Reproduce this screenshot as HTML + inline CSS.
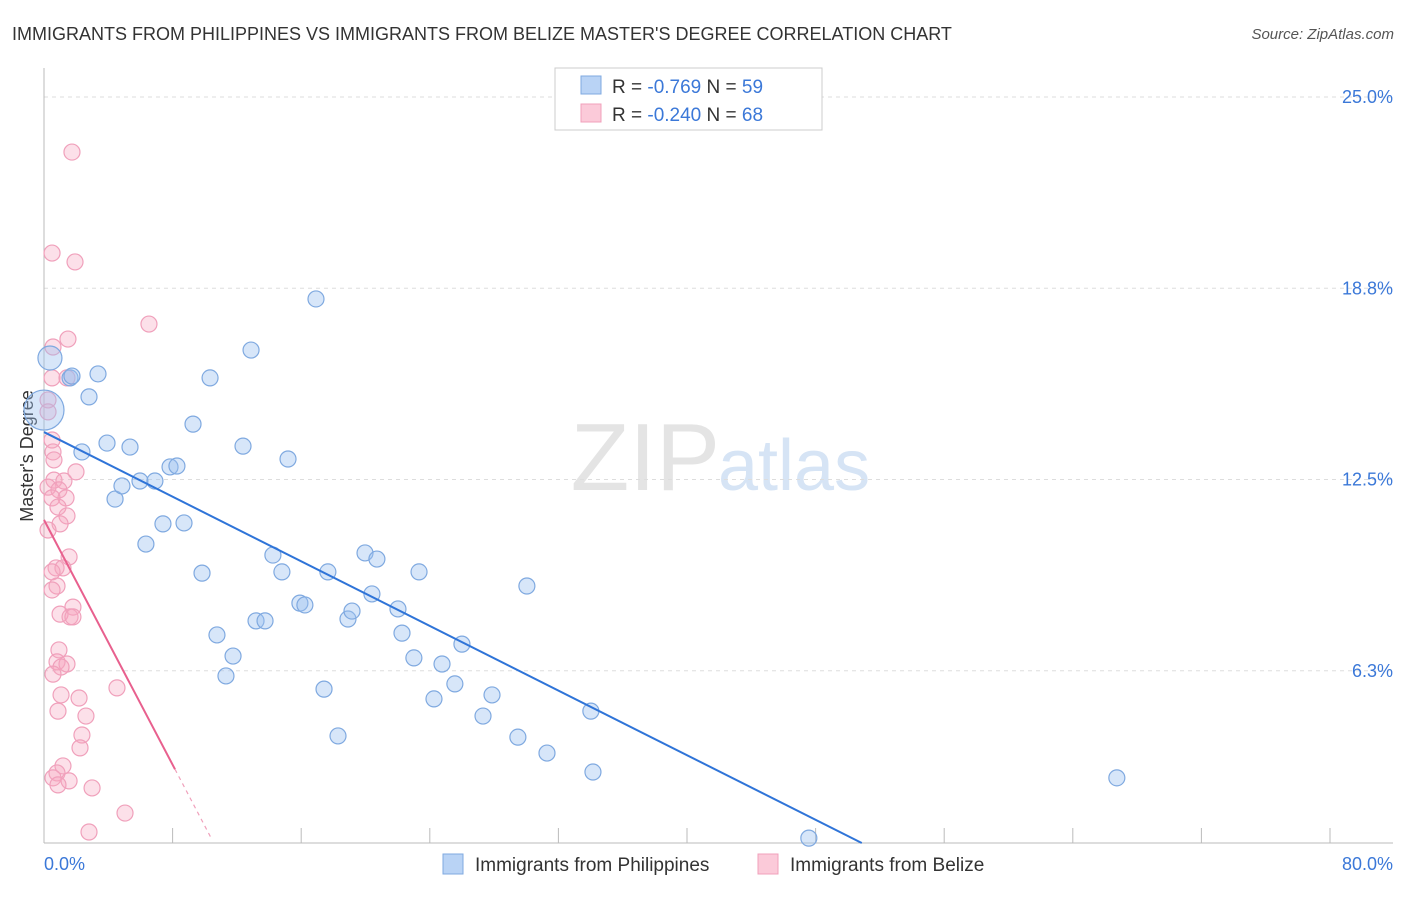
<!DOCTYPE html>
<html><head><meta charset="utf-8"><style>
body{margin:0;background:#fff;font-family:"Liberation Sans",sans-serif;}
svg text{font-family:"Liberation Sans",sans-serif;}
</style></head><body>
<svg id="chart" width="1406" height="892">
<text x="12" y="40" font-size="18" fill="#333">IMMIGRANTS FROM PHILIPPINES VS IMMIGRANTS FROM BELIZE MASTER'S DEGREE CORRELATION CHART</text>
<text x="1394" y="39" font-size="15" fill="#555" font-style="italic" text-anchor="end">Source: ZipAtlas.com</text>
<text x="720" y="490" font-size="96" fill="#e4e4e4" text-anchor="end" font-family="Liberation Serif">ZIP</text>
<text x="718" y="490" font-size="72" fill="#d6e4f5">atlas</text>
<text transform="translate(33,456) rotate(-90)" font-size="18" fill="#333" text-anchor="middle">Master's Degree</text>
<g id="grid"></g><g id="marks"></g>
<g>
<rect x="555" y="68" width="267" height="62" fill="#fff" stroke="#ccc"/>
<rect x="581" y="76" width="20" height="18" fill="#b9d3f5" stroke="#7fa9e0"/>
<rect x="581" y="104" width="20" height="18" fill="#fbcad9" stroke="#f0a0bb"/>
<text x="612" y="93" font-size="19" fill="#333">R = <tspan fill="#3b78d8">-0.769</tspan>   N = <tspan fill="#3b78d8">59</tspan></text>
<text x="612" y="121" font-size="19" fill="#333">R = <tspan fill="#3b78d8">-0.240</tspan>   N = <tspan fill="#3b78d8">68</tspan></text>
</g>
<g>
<rect x="443" y="854" width="20" height="20" fill="#b9d3f5" stroke="#7fa9e0"/>
<text x="475" y="871" font-size="19" fill="#333">Immigrants from Philippines</text>
<rect x="758" y="854" width="20" height="20" fill="#fbcad9" stroke="#f0a0bb"/>
<text x="790" y="871" font-size="19" fill="#333">Immigrants from Belize</text>
</g>
</svg>
<script>
const yTicks=[25,18.75,12.5,6.25];
const yTickLabels=["25.0%","18.8%","12.5%","6.3%"];
const xTickLabels=["0.0%","80.0%"];
const blueX=[0.37,0,1.62,1.74,3.36,2.8,2.36,3.92,5.35,4.42,4.85,5.97,6.9,7.84,8.27,9.27,10.33,12.88,12.38,15.18,16.92,7.4,8.71,6.34,9.83,10.76,11.32,11.76,13.19,13.75,14.24,14.8,15.92,16.23,17.66,18.91,19.16,19.97,20.71,20.4,22.02,22.27,23.01,23.33,17.42,18.29,24.26,24.76,25.56,26.0,27.31,27.87,29.48,30.04,31.29,34.02,34.15,47.58,66.74];
const blueY=[16.47,14.77,15.82,15.88,15.95,15.2,13.4,13.69,13.56,11.86,12.29,12.45,12.45,12.91,12.94,14.31,15.82,16.73,13.59,13.17,18.4,11.05,11.08,10.39,9.44,7.42,6.08,6.73,7.88,7.88,10.03,9.48,8.46,8.4,9.48,7.94,8.2,10.1,9.9,8.76,8.27,7.48,6.67,9.48,5.65,4.12,5.33,6.47,5.82,7.12,4.77,5.46,4.08,9.02,3.56,4.93,2.94,0.78,2.75];
const pinkX=[1.74,0.5,1.93,6.53,1.49,0.56,0.5,1.43,0.25,0.25,0.5,0.56,0.62,1.99,0.62,1.24,0.25,0.93,1.37,0.5,0.87,1.43,1.0,0.25,1.56,0.75,1.18,0.5,0.81,0.5,1.8,1.0,1.62,1.8,0.93,0.81,1.43,1.06,0.56,4.54,1.06,2.18,0.87,2.61,2.36,2.24,1.18,0.81,0.56,1.56,0.87,2.99,5.04,2.8];
const pinkY=[23.2,19.9,19.61,17.58,17.09,16.83,15.82,15.82,15.1,14.71,13.79,13.4,13.14,12.75,12.48,12.45,12.25,12.16,11.9,11.9,11.6,11.31,11.05,10.85,9.97,9.61,9.61,9.48,9.02,8.89,8.33,8.1,8.01,8.01,6.93,6.54,6.47,6.37,6.14,5.69,5.46,5.36,4.93,4.77,4.15,3.73,3.14,2.91,2.75,2.65,2.52,2.42,1.6,0.98];
const blueLine=[14.05,-0.264];
const pinkLine=[11.18,-1.0];
const NS="http://www.w3.org/2000/svg";
const xs=v=>44+v*1286/80;
const ys=v=>862-v*30.6;
function mk(tag,attrs,parent){const e=document.createElementNS(NS,tag);for(const k in attrs)e.setAttribute(k,attrs[k]);parent.appendChild(e);return e;}
const grid=document.getElementById('grid'),marks=document.getElementById('marks');
yTicks.forEach((t,i)=>{
 const l=mk('line',{x1:44,x2:1393,y1:ys(t),y2:ys(t),stroke:'#ddd','stroke-dasharray':'4,4'},grid);
 
 
 const tx=mk('text',{x:1393,y:ys(t)+6,'font-size':18,fill:'#3b78d8','text-anchor':'end'},grid);
 tx.textContent=yTickLabels[i];
 
 
});
const ax=mk('line',{x1:44,x2:1393,y1:843,y2:843,stroke:'#bbb'},grid);


const ay=mk('line',{x1:44,x2:44,y1:68,y2:843,stroke:'#bbb'},grid);


for(let i=1;i<=10;i++){const t=mk('line',{x1:xs(i*8),x2:xs(i*8),y1:828,y2:843,stroke:'#bbb'},grid);
 
 }
[[0,'start',44],[80,'end',1393]].forEach((a,i)=>{const t=mk('text',{x:a[2],y:870,'font-size':18,fill:'#3b78d8','text-anchor':a[1]},grid);t.textContent=xTickLabels[i];
 
 });
pinkX.forEach((x,i)=>{const c=mk('circle',{cx:xs(x),cy:ys(pinkY[i]),r:8,fill:'rgba(245,165,192,0.35)',stroke:'#f0a0bb','stroke-width':1.2},marks);
 
 });
blueX.forEach((x,i)=>{const c=mk('circle',{cx:xs(x),cy:ys(blueY[i]),r:(i<2?(i==1?20:12):8),fill:'rgba(155,192,240,0.4)',stroke:'#7fa9e0','stroke-width':1.2},marks);
 
 });
const bx2=-blueLine[0]/blueLine[1]+0.0;
const bl=mk('line',{x1:xs(0),y1:ys(blueLine[0]),x2:xs(bx2),y2:ys(0.62),stroke:'#2f74d8','stroke-width':2},marks);
bl.setAttribute('x2',xs((0.62-blueLine[0])/blueLine[1]));


const pEnd=8.15,pDash=10.45;
const pl=mk('line',{x1:xs(0),y1:ys(pinkLine[0]),x2:xs(pEnd),y2:ys(pinkLine[0]+pinkLine[1]*pEnd),stroke:'#e8608e','stroke-width':2},marks);


const pd=mk('line',{x1:xs(pEnd),y1:ys(pinkLine[0]+pinkLine[1]*pEnd),x2:xs(pDash),y2:ys(pinkLine[0]+pinkLine[1]*pDash),stroke:'#f0a0bb','stroke-width':1.2,'stroke-dasharray':'4,4'},marks);


</script>
</body></html>
